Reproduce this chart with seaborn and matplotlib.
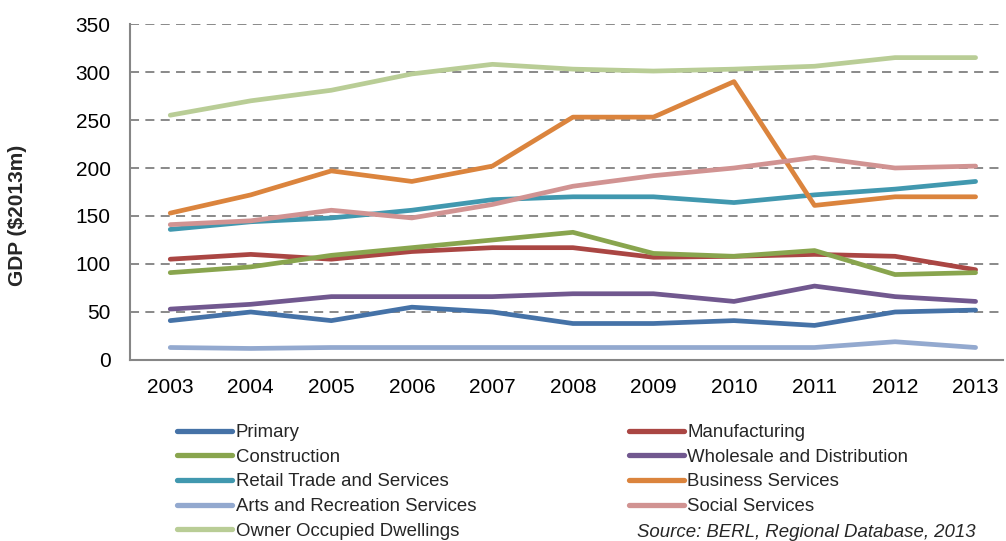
import pandas as pd
import matplotlib
matplotlib.use("Agg")
import matplotlib.pyplot as plt
import seaborn as sns

# GDP by industry, $2013m
years = list(range(2003, 2014))

primary = [41, 50, 41, 55, 50, 38, 38, 41, 36, 50, 52]
manufacturing = [105, 110, 105, 113, 117, 117, 107, 108, 110, 108, 94]
construction = [91, 97, 109, 117, 125, 133, 111, 108, 114, 89, 91]
wholesale = [53, 58, 66, 66, 66, 69, 69, 61, 77, 66, 61]
retail = [136, 144, 148, 156, 167, 170, 170, 164, 172, 178, 186]
business = [153, 172, 197, 186, 202, 253, 253, 290, 161, 170, 170]
arts = [13, 12, 13, 13, 13, 13, 13, 13, 13, 19, 13]
social = [141, 145, 156, 148, 162, 181, 192, 200, 211, 200, 202]
owner = [255, 270, 281, 298, 308, 303, 301, 303, 306, 315, 315]

series = {
    "Primary": primary,
    "Manufacturing": manufacturing,
    "Construction": construction,
    "Wholesale and Distribution": wholesale,
    "Retail Trade and Services": retail,
    "Business Services": business,
    "Arts and Recreation Services": arts,
    "Social Services": social,
    "Owner Occupied Dwellings": owner,
}

colors = {
    "Primary": "#4572A7",
    "Manufacturing": "#AA4643",
    "Construction": "#89A54E",
    "Wholesale and Distribution": "#71588F",
    "Retail Trade and Services": "#4198AF",
    "Business Services": "#DB843D",
    "Arts and Recreation Services": "#93A9CF",
    "Social Services": "#D19392",
    "Owner Occupied Dwellings": "#B9CD96",
}

rows = []
for name, vals in series.items():
    for y, v in zip(years, vals):
        rows.append({"year": y, "industry": name, "gdp": v})
df = pd.DataFrame(rows)

sns.set_style("white")
plt.rcParams["font.family"] = ["Liberation Sans", "DejaVu Sans"]

fig = plt.figure(figsize=(10.06, 5.41), dpi=100)
ax = fig.add_axes([0.1292, 0.3346, 0.8678, 0.621])

sns.lineplot(data=df, x="year", y="gdp", hue="industry", palette=colors,
             hue_order=list(series.keys()), linewidth=3.4, ax=ax, legend=False,
             solid_capstyle="round")

ax.set_xlim(2002.5, 2013.34)
ax.set_ylim(0, 350)
ax.set_xticks(years)
ax.set_yticks(range(0, 351, 50))
ax.tick_params(axis="both", labelsize=15, length=0, colors="black")
ax.tick_params(axis="x", pad=13)
ax.tick_params(axis="y", pad=14)
ax.yaxis.grid(True, linestyle=(0, (5, 3.5)), color="#808080", linewidth=1.3)
ax.set_axisbelow(True)
for s in ["top", "right"]:
    ax.spines[s].set_visible(False)
for s in ["left", "bottom"]:
    ax.spines[s].set_color("#868686")
    ax.spines[s].set_linewidth(1.5)

ax.set_xlabel("")
ax.set_ylabel("GDP (\\$2013m)", fontsize=15, fontweight="bold")
ax.yaxis.set_label_coords(-0.118, 0.43)

# legend: two columns
order = ["Primary", "Construction", "Retail Trade and Services",
         "Arts and Recreation Services", "Owner Occupied Dwellings",
         "Manufacturing", "Wholesale and Distribution", "Business Services",
         "Social Services"]
handles = [plt.Line2D([], [], color=colors[n], linewidth=3.8, solid_capstyle="round")
           for n in order]
fig.legend(handles, order, ncol=2, loc="upper left", bbox_to_anchor=(0.176, 0.216),
           frameon=False, fontsize=13.4, handlelength=2.95, handletextpad=0.2,
           labelspacing=0.41, columnspacing=8.2, borderaxespad=0, borderpad=0)

fig.text(0.97, 0.0, "Source: BERL, Regional Database, 2013", ha="right",
         va="bottom", fontsize=13.4, style="italic")

fig.savefig("out.png", dpi=100)
